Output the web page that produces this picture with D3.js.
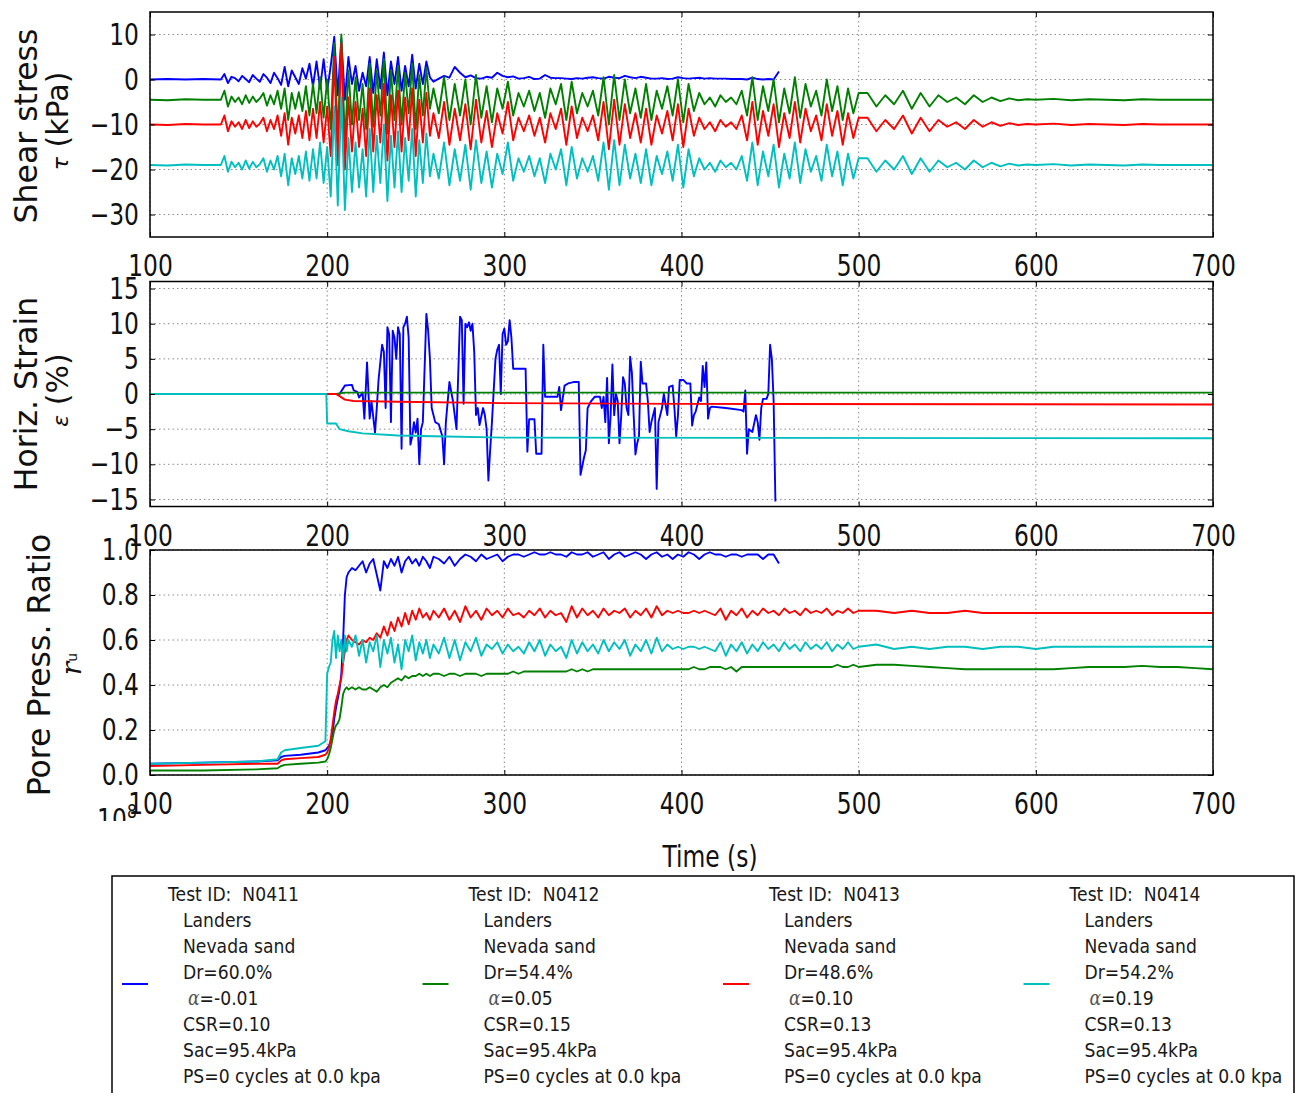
<!DOCTYPE html>
<html>
<head>
<meta charset="utf-8">
<script src="https://cdn.jsdelivr.net/npm/d3@7"></script>
<style>
  body { margin: 0; background: #fff; }
  svg { display: block; font-family: "DejaVu Sans", sans-serif; }
</style>
</head>
<body>
<svg id="fig" width="1306" height="1093"></svg>
<script>
// ---------- sampling times ----------
const shearTime = [].concat([100, 110, 120, 130, 140], d3.range(142, 261, 2), d3.range(263, 501, 3),
  d3.range(505, 601, 5), d3.range(610, 701, 10));
const poreTime = [].concat([100, 130, 160, 172, 174, 176, 185, 195, 199, 200, 201, 202, 203, 204, 205, 206,
  207, 208, 209, 210, 211, 212, 214], d3.range(216, 261, 2), d3.range(263, 501, 3), d3.range(510, 701, 10));

// ---------- shear stress (kPa) ----------
const shearN0411 = [
  0, 0.1, 0, 0.1, 0,
  1.2, -0.8, 0.6, 0.3, -0.4, 0.8, 0.1, -0.6, 1.0, 0.2,
  -0.5, 1.2, 0.4, -0.8, 1.5, 0.3, -1.2, 2.8, -1.5, 2.0,
  0.5, -1.0, 2.5, 0.2, 3.5, -1.5, 4.0, -2.0, 4.5, -2.5,
  3.0, 9.5, -3.5, 9.0, -4.5, 5.0, -1.0, 3.0, -2.5, 1.5,
  -1.5, 5.0, -3.0, 4.5, -2.0, 6.0, -3.5, 4.0, -1.0, 5.0,
  -2.5, 3.0, -1.5, 5.5, -2.0, 3.5, -1.0, 4.0, 0.5, -0.5,
  0.2, 0.8, 0.4, 2.8, 1.5, 0.5, 0.9, 0.3, 0.2, 0.6,
  0.4, 1.5, 0.8, 0.5, 0.7, 0.2, 0.3, 0.6, 0.1, 0.2,
  1.0, 0.4, 0.3, 0.3, 0.2, 0.1, 0.3, 0.2, 0.4, 0.5,
  0.3, 0.2, 0.6, 0.4, 0.3, 0.8, 0.5, 0.3, 0.6, 0.4,
  0.2, 0.2, 0.3, 0.1, 0.2, 0.5, 0.3, 0.2, 0.3, 0.4,
  0.2, 0.3, 0.2, 0.2, 0.2, 0.1, 0.1, 0.1, 0.0, 0.4,
  0.1, 0.0, 0.1, 0.0, 1.8
];
const shearN0412 = [
  -4.5, -4.6, -4.4, -4.5, -4.5,
  -2.5, -6.0, -3.8, -5.0, -4.0, -5.5, -3.5, -5.2, -3.8, -5.0,
  -4.2, -3.0, -5.8, -3.5, -5.5, -2.5, -6.5, -2.0, -9.0, -3.0,
  -6.5, -2.8, -7.0, -1.5, -8.0, -1.0, -7.5, 0.5, -8.5, 0.0,
  -11.0, 8.0, -13.0, 10.0, -14.0, 2.0, -10.0, 0.5, -9.0, -1.0,
  -11.0, 3.5, -10.5, 2.0, -8.0, 4.5, -12.0, 2.0, -9.0, 3.0,
  -10.0, 1.5, -7.5, 3.5, -11.0, 1.0, -8.0, 2.5, -6.5, -2.0,
  -7.5, 0.5, -9.0, -1.0, -8.0, 0.0, -10.0, 1.0, -8.5, -1.5,
  -9.5, -2.0, -6.5, -0.5, -8.0, -3.0, -6.0, -2.5, -7.0, -3.0,
  -8.5, -2.0, -5.5, -1.0, -9.0, -0.5, -7.5, -3.0, -6.0, -2.5,
  -8.0, 0.5, -10.0, 1.0, -9.0, 0.0, -7.5, -2.0, -8.5, -1.0,
  -9.0, -2.5, -6.5, -1.5, -8.0, 0.0, -9.5, -1.0, -7.0, -3.0,
  -5.5, -4.0, -6.0, -3.5, -5.0, -4.0, -5.5, -2.5, -8.0, 0.5,
  -9.0, -1.5, -7.0, 0.0, -9.5, -2.0, -7.5, 0.5, -8.5, -1.0,
  -6.0, -2.5, -8.0, 0.0, -7.0, -1.5, -9.0, -2.0, -7.5, -3.0,
  -3.0, -6.0, -3.5, -5.5, -2.5, -6.5, -3.0, -6.0, -3.5, -5.0,
  -4.0, -5.5, -3.5, -5.0, -4.0, -4.8, -4.2, -4.6, -4.4, -4.5,
  -4.3, -4.6, -4.4, -4.5, -4.6, -4.4, -4.5, -4.5, -4.5, -4.5
];
const shearN0413 = [
  -10.0, -10.1, -9.9, -10.0, -10.0,
  -8.0, -11.5, -9.3, -10.5, -9.5, -11.0, -9.0, -10.8, -9.3, -10.5,
  -9.8, -8.5, -11.5, -9.0, -11.0, -8.0, -12.5, -7.5, -14.5, -8.5,
  -12.0, -8.0, -13.0, -7.0, -13.5, -6.5, -13.0, -5.0, -14.0, -6.0,
  -17.0, 5.0, -19.0, 8.0, -20.0, -4.0, -16.0, -5.0, -15.0, -6.5,
  -17.0, -2.0, -16.0, -3.5, -14.0, -1.0, -18.0, -3.5, -15.0, -2.5,
  -16.0, -4.0, -13.5, -2.0, -17.0, -4.5, -14.0, -3.0, -12.5, -7.5,
  -13.0, -5.0, -14.5, -6.5, -13.5, -5.5, -15.5, -4.5, -14.0, -7.0,
  -15.0, -7.5, -12.0, -5.0, -13.5, -8.5, -11.5, -8.0, -12.5, -8.5,
  -14.0, -7.5, -11.0, -6.5, -14.5, -6.0, -13.0, -8.5, -11.5, -8.0,
  -13.5, -5.0, -15.5, -4.5, -14.5, -5.5, -13.0, -7.5, -14.0, -6.5,
  -14.5, -8.0, -12.0, -7.0, -13.5, -5.5, -15.0, -6.5, -12.5, -8.5,
  -11.0, -9.5, -11.5, -9.0, -10.5, -9.5, -11.0, -8.0, -13.5, -5.0,
  -14.5, -7.0, -12.5, -5.5, -15.0, -7.5, -13.0, -5.0, -14.0, -6.5,
  -11.5, -8.0, -13.5, -5.5, -12.5, -7.0, -14.5, -7.5, -13.0, -8.5,
  -8.5, -11.5, -9.0, -11.0, -8.0, -12.0, -8.5, -11.5, -9.0, -10.5,
  -9.5, -11.0, -9.0, -10.5, -9.5, -10.3, -9.7, -10.1, -9.9, -10.0,
  -9.8, -10.1, -9.9, -10.0, -10.1, -9.9, -10.0, -10.0, -10.0, -10.0
];
const shearN0414 = [
  -19.0, -19.1, -18.9, -19.0, -19.0,
  -17.0, -20.5, -18.3, -19.5, -18.5, -20.0, -18.0, -19.8, -18.3, -19.5,
  -18.8, -17.5, -20.5, -18.0, -20.0, -17.0, -21.5, -16.5, -23.5, -17.5,
  -21.0, -17.0, -22.0, -16.0, -22.5, -15.5, -22.0, -14.0, -23.0, -15.0,
  -26.0, -6.0, -28.0, -4.0, -29.0, -13.0, -25.0, -14.0, -24.0, -15.5,
  -26.0, -11.0, -25.0, -12.5, -23.0, -10.0, -27.0, -12.5, -24.0, -11.5,
  -25.0, -13.0, -22.5, -11.0, -26.0, -13.5, -23.0, -12.0, -21.5, -16.5,
  -22.0, -14.0, -23.5, -15.5, -22.5, -14.5, -24.5, -13.5, -23.0, -16.0,
  -24.0, -16.5, -21.0, -14.0, -22.5, -17.5, -20.5, -17.0, -21.5, -17.5,
  -23.0, -16.5, -20.0, -15.5, -23.5, -15.0, -22.0, -17.5, -20.5, -17.0,
  -22.5, -14.0, -24.5, -13.5, -23.5, -14.5, -22.0, -16.5, -23.0, -15.5,
  -23.5, -17.0, -21.0, -16.0, -22.5, -14.5, -24.0, -15.5, -21.5, -17.5,
  -20.0, -18.5, -20.5, -18.0, -19.5, -18.5, -20.0, -17.0, -22.5, -14.0,
  -23.5, -16.0, -21.5, -14.5, -24.0, -16.5, -22.0, -14.0, -23.0, -15.5,
  -20.5, -17.0, -22.5, -14.5, -21.5, -16.0, -23.5, -16.5, -22.0, -17.5,
  -17.5, -20.5, -18.0, -20.0, -17.0, -21.0, -17.5, -20.5, -18.0, -19.5,
  -18.5, -20.0, -18.0, -19.5, -18.5, -19.3, -18.7, -19.1, -18.9, -19.0,
  -18.8, -19.1, -18.9, -19.0, -19.1, -18.9, -19.0, -19.0, -19.0, -19.0
];

// ---------- horizontal strain (%), [time, value] ----------
const strainN0411 = [
  [100, 0], [207, 0], [209, 0.8], [210, 1.2], [214, 1.3], [215, 0.5], [217, 0.3], [218, -0.5], [220, 0.2],
  [221, -3.5], [222.5, 4.5], [224, -3.5], [225, -1], [227, -5.5], [228, -2], [229, 2], [231, 7], [232, 6],
  [233, -2], [234, 9.5], [235, 8.5], [236, -4], [237, 9], [238, 8], [239, 5], [240, 9.5], [241, 8.5],
  [242, -7.8], [243, 9.5], [244, 10], [245, 11], [246, 8], [247, -7.2], [248, -6], [249, -4], [250, -5.5],
  [251, -3.5], [252, -10], [253, -5], [254, -4], [256, 11.4], [257, 9], [258, 5], [259, -2], [261, -4],
  [263, -4.3], [265, -6], [266, -10], [267, -4], [269, 1.7], [271, -1], [273, -5], [274, 3], [275, 11],
  [276, 10.5], [277, -1.4], [278, 10], [279, 9.5], [280, 10.2], [281, 9], [282, 10], [283, 6], [284, -3],
  [285, -2], [286, -4.4], [288, -2], [289, -3], [290, -5], [291, -12.3], [292, -8], [293, -4], [295, 5],
  [296, 6.3], [297, 7], [298, 0], [299, 8.5], [300, 9.3], [301, 7], [302, 7.5], [303, 10.5], [304, 8],
  [305, 3.6], [312, 3.6], [313, -8.2], [314, -3.6], [317, -3.6], [318, -8.5], [321, -8.5], [322, 7],
  [323, -0.4], [330, -0.4], [331, 1], [332, -2.3], [334, 1.2], [336, 1.5], [339, 1.7], [342, 1.7],
  [343, -11.5], [345, -9], [346, -8], [347, -2], [349, -1], [351, -0.4], [354, -0.4], [355, -2], [356, -0.4],
  [357, -4], [358, 2.3], [359, -7], [360, -3], [361, 4.2], [362, -3], [363, 0], [364, -1], [365, -7],
  [366, -3], [367, 2.4], [368, 1.5], [369, -2], [370, -3], [371, 5.3], [372, 3], [373, -3], [374, -8.6],
  [375, -7], [376, -6], [377, 4.6], [378, 1.5], [380, 1.5], [381, -1], [382, -5.4], [383, -4], [384, -3],
  [385, -2], [386, -13.5], [387, -4], [389, -2], [390, 0], [392, -3], [393, 1], [395, 1.2], [396, -2],
  [397, -6], [398, -3], [399, 2], [401, 2], [403, 1.5], [405, 1.5], [406, -4.5], [407, -3], [408, -2.5],
  [410, -0.5], [411, -1], [412, 4], [413, 1], [414, 4.5], [415, -3.5], [416, -2], [417, -1.8], [425, -2.0],
  [434, -2.3], [435, -2.5], [436, 0.5], [437, -8.5], [438, -5], [440, -5.4], [442, -3], [443, -4],
  [444, -6.5], [445, -2], [446, -0.7], [448, -0.7], [449, 0], [450, 7], [451, 5], [452, -1], [453, -15.3]
];
const strainN0412 = [[100, 0], [205, 0], [210, 0.2], [700, 0.2]];
const strainN0413 = [[100, 0], [205, 0], [207, -0.3], [210, -0.8], [215, -1.0], [240, -1.1], [300, -1.3],
  [400, -1.4], [700, -1.5]];
const strainN0414 = [[100, 0], [199.5, 0], [200, -4.2], [205, -4.2], [207, -5.0], [212, -5.3], [220, -5.6],
  [240, -5.9], [260, -6.0], [300, -6.2], [700, -6.3]];

// ---------- pore pressure ratio ----------
const poreN0411 = [
  0.05, 0.055, 0.06, 0.065, 0.08, 0.085, 0.09, 0.1, 0.11, 0.12,
  0.13, 0.15, 0.18, 0.25, 0.3, 0.34, 0.38, 0.45, 0.6, 0.8,
  0.88, 0.9, 0.92,
  0.91, 0.93, 0.95, 0.90, 0.94, 0.96, 0.89, 0.82, 0.95, 0.92,
  0.96, 0.93, 0.97, 0.90, 0.95, 0.97, 0.94, 0.96, 0.93, 0.97,
  0.95, 0.92, 0.97,
  0.96, 0.94, 0.97, 0.93, 0.96, 0.98, 0.97, 0.95, 0.98, 0.96,
  0.97, 0.98, 0.95, 0.97, 0.98, 0.98, 0.97, 0.98, 0.99, 0.98,
  0.98, 0.99, 0.98, 0.98, 0.97, 0.99, 0.98, 0.98, 0.99, 0.97,
  0.98, 0.99, 0.96, 0.98, 0.99, 0.97, 0.98, 0.99, 0.98, 0.96,
  0.98, 0.99, 0.97, 0.98, 0.96, 0.98, 0.97, 0.99, 0.98, 0.96,
  0.98, 0.99, 0.98, 0.98, 0.97, 0.98, 0.98, 0.97, 0.98, 0.98,
  0.98, 0.96, 0.98, 0.98, 0.94
];
const poreN0412 = [
  0.02, 0.02, 0.025, 0.03, 0.04, 0.045, 0.05, 0.055, 0.06, 0.07,
  0.09, 0.12, 0.16, 0.2, 0.22, 0.23, 0.25, 0.3, 0.36, 0.38,
  0.39, 0.38, 0.39,
  0.38, 0.39, 0.38, 0.38, 0.39, 0.38, 0.37, 0.39, 0.40, 0.39,
  0.41, 0.42, 0.43, 0.42, 0.44, 0.43, 0.44, 0.44, 0.45, 0.44,
  0.45, 0.44, 0.45,
  0.45, 0.44, 0.45, 0.45, 0.44, 0.45, 0.45, 0.45, 0.44, 0.45,
  0.45, 0.45, 0.45, 0.45, 0.46, 0.45, 0.46, 0.46, 0.46, 0.46,
  0.46, 0.46, 0.46, 0.46, 0.46, 0.47, 0.46, 0.47, 0.46, 0.47,
  0.47, 0.47, 0.47, 0.47, 0.47, 0.47, 0.47, 0.47, 0.47, 0.47,
  0.47, 0.47, 0.47, 0.47, 0.47, 0.47, 0.47, 0.47, 0.48, 0.47,
  0.47, 0.48, 0.48, 0.48, 0.47, 0.48, 0.46, 0.48, 0.48, 0.48,
  0.48, 0.48, 0.48, 0.48, 0.48, 0.48, 0.48, 0.48, 0.48, 0.48,
  0.48, 0.48, 0.48, 0.48, 0.48, 0.49, 0.48, 0.48, 0.49, 0.48,
  0.49, 0.49, 0.485, 0.48, 0.475, 0.47, 0.47, 0.47, 0.47, 0.47,
  0.47, 0.475, 0.48, 0.48, 0.48, 0.485, 0.48, 0.48, 0.475, 0.47
];
const poreN0413 = [
  0.04, 0.045, 0.05, 0.05, 0.065, 0.07, 0.075, 0.08, 0.09, 0.1,
  0.12, 0.16, 0.22, 0.28, 0.33, 0.36, 0.4, 0.43, 0.5, 0.55,
  0.6, 0.62, 0.6,
  0.59, 0.58, 0.6, 0.59, 0.61, 0.6, 0.63, 0.61, 0.66, 0.62,
  0.68, 0.64, 0.70, 0.66, 0.72, 0.67, 0.73, 0.69, 0.74, 0.70,
  0.72, 0.69, 0.73,
  0.70, 0.74, 0.69, 0.73, 0.68, 0.75, 0.70, 0.73, 0.69, 0.74,
  0.71, 0.73, 0.70, 0.74, 0.71, 0.72, 0.70, 0.73, 0.71, 0.74,
  0.70, 0.73, 0.71, 0.72, 0.68, 0.75, 0.70, 0.74, 0.71, 0.73,
  0.70, 0.74, 0.71, 0.73, 0.72, 0.74, 0.70, 0.73, 0.71, 0.74,
  0.70, 0.75, 0.71, 0.73, 0.72, 0.73, 0.72, 0.72, 0.73, 0.72,
  0.73, 0.72, 0.71, 0.74, 0.69, 0.73, 0.71, 0.74, 0.70, 0.73,
  0.71, 0.74, 0.72, 0.73, 0.71, 0.74, 0.72, 0.73, 0.71, 0.74,
  0.72, 0.73, 0.72, 0.74, 0.71, 0.73, 0.72, 0.74, 0.72, 0.73,
  0.73, 0.72, 0.73, 0.72, 0.72, 0.73, 0.72, 0.72, 0.72, 0.72,
  0.72, 0.72, 0.72, 0.72, 0.72, 0.72, 0.72, 0.72, 0.72, 0.72
];
const poreN0414 = [
  0.05, 0.055, 0.06, 0.07, 0.1, 0.11, 0.12, 0.13, 0.15, 0.45,
  0.48, 0.5, 0.6, 0.64, 0.52, 0.62, 0.55, 0.6, 0.5, 0.62,
  0.55, 0.6, 0.57,
  0.62, 0.53, 0.60, 0.50, 0.59, 0.55, 0.62, 0.48, 0.60, 0.54,
  0.61, 0.50, 0.58, 0.47, 0.60, 0.55, 0.62, 0.51, 0.59, 0.54,
  0.60, 0.52, 0.58,
  0.54, 0.61, 0.52, 0.60, 0.51, 0.59, 0.55, 0.61, 0.53, 0.58,
  0.56, 0.59, 0.54, 0.58, 0.55, 0.57, 0.54, 0.59, 0.55, 0.60,
  0.53, 0.58, 0.55, 0.57, 0.52, 0.60, 0.54, 0.59, 0.55, 0.58,
  0.54, 0.60, 0.55, 0.59, 0.56, 0.60, 0.53, 0.58, 0.55, 0.60,
  0.54, 0.61, 0.55, 0.58, 0.56, 0.57, 0.56, 0.57, 0.57, 0.56,
  0.57, 0.56, 0.55, 0.59, 0.53, 0.58, 0.55, 0.59, 0.54, 0.58,
  0.55, 0.59, 0.56, 0.58, 0.55, 0.59, 0.56, 0.58, 0.55, 0.59,
  0.56, 0.58, 0.56, 0.59, 0.55, 0.58, 0.56, 0.59, 0.56, 0.57,
  0.58, 0.56, 0.57, 0.56, 0.57, 0.57, 0.56, 0.57, 0.57, 0.56,
  0.57, 0.57, 0.57, 0.57, 0.57, 0.57, 0.57, 0.57, 0.57, 0.57
];

// ---------- tick labels / legend text ----------
const timeTicks = [100, 200, 300, 400, 500, 600, 700];
const shearTicks = [-30, -20, -10, 0, 10];
const strainTicks = [-15, -10, -5, 0, 5, 10, 15];
const poreTicks = [0, 0.2, 0.4, 0.6, 0.8, 1.0];
const testIds = ["N0411", "N0412", "N0413", "N0414"];
const drValues = ["60.0%", "54.4%", "48.6%", "54.2%"];
const alphaValues = ["-0.01", "0.05", "0.10", "0.19"];
const csrValues = ["0.10", "0.15", "0.13", "0.13"];
const seriesColors = ["#0000ff", "#008000", "#ff0000", "#00bfbf"];

// ---------- drawing ----------
const svg = d3.select("#fig");
const X0 = 150, X1 = 1213, PH = 225;
const x = d3.scaleLinear().domain([100, 700]).range([X0, X1]);
const TICK_SX = 0.78;   // narrow tick lettering

const zip = (t, v) => v.map((d, i) => [t[i], d]);

const panels = [
  { top: 12, domain: [-35, 15], ticks: shearTicks, fmt: d3.format("d"),
    series: [shearN0411, shearN0412, shearN0413, shearN0414].map(v => zip(shearTime, v)) },
  { top: 281.5, domain: [-16, 16], ticks: strainTicks, fmt: d3.format("d"),
    series: [strainN0411, strainN0412, strainN0413, strainN0414] },
  { top: 550, domain: [0, 1], ticks: poreTicks, fmt: d3.format(".1f"),
    series: [poreN0411, poreN0412, poreN0413, poreN0414].map(v => zip(poreTime, v)) }
];

panels.forEach((p, pi) => {
  const y = d3.scaleLinear().domain(p.domain).range([p.top + PH, p.top]);
  const g = svg.append("g");

  // clip region
  const cid = "clip" + pi;
  svg.append("clipPath").attr("id", cid)
    .append("rect").attr("x", X0).attr("y", p.top).attr("width", X1 - X0).attr("height", PH);

  // dotted grid
  const grid = g.append("g").attr("stroke", "#8c8c8c").attr("stroke-width", 1)
    .attr("stroke-dasharray", "1.5,3");
  grid.selectAll("line.v").data(timeTicks).join("line")
    .attr("x1", d => x(d)).attr("x2", d => x(d)).attr("y1", p.top).attr("y2", p.top + PH);
  grid.selectAll("line.h").data(p.ticks).join("line")
    .attr("x1", X0).attr("x2", X1).attr("y1", d => y(d)).attr("y2", d => y(d));

  // data lines
  const line = d3.line().x(d => x(d[0])).y(d => y(d[1]));
  const lines = g.append("g").attr("clip-path", `url(#${cid})`);
  p.series.forEach((s, si) => {
    lines.append("path").attr("d", line(s)).attr("fill", "none")
      .attr("stroke", seriesColors[si]).attr("stroke-width", 1.9)
      .attr("stroke-linejoin", "round");
  });

  // axes with inward ticks
  const bottom = g.append("g").attr("transform", `translate(0,${p.top + PH})`)
    .call(d3.axisBottom(x).tickValues(timeTicks).tickSize(-5).tickSizeOuter(0).tickPadding(18).tickFormat(d3.format("d")));
  g.append("g").attr("transform", `translate(0,${p.top})`)
    .call(d3.axisTop(x).tickValues(timeTicks).tickSize(-5).tickSizeOuter(0).tickFormat(""));
  const left = g.append("g").attr("transform", `translate(${X0},0)`)
    .call(d3.axisLeft(y).tickValues(p.ticks).tickSize(-5).tickSizeOuter(0).tickFormat(p.fmt));
  g.append("g").attr("transform", `translate(${X1},0)`)
    .call(d3.axisRight(y).tickValues(p.ticks).tickSize(-5).tickSizeOuter(0).tickFormat(""));

  g.selectAll(".domain").remove();
  g.selectAll(".tick line").attr("stroke", "#000").attr("stroke-width", 1);
  [bottom, left].forEach(a => a.selectAll("text")
    .attr("font-family", "DejaVu Sans").attr("font-size", 30).attr("fill", "#111"));
  bottom.selectAll("text").attr("transform", `scale(${TICK_SX},1)`);
  left.selectAll("text").attr("x", null).attr("transform", `translate(-11,0) scale(${TICK_SX},1)`);

  // frame
  g.append("rect").attr("x", X0).attr("y", p.top).attr("width", X1 - X0).attr("height", PH)
    .attr("fill", "none").attr("stroke", "#000").attr("stroke-width", 1.5);
});

// ---------- axis titles ----------
function vLabel(xp, yp, size) {
  return svg.append("text").attr("transform", `translate(${xp},${yp}) rotate(-90)`)
    .attr("text-anchor", "middle").attr("font-size", size).attr("fill", "#111");
}
vLabel(37, 126, 31.5).text("Shear stress");
const tauLab = vLabel(68, 121, 30);
tauLab.append("tspan").attr("font-style", "italic").attr("font-size", 22).text("τ");
tauLab.append("tspan").text(" (kPa)");

vLabel(37, 394, 31.5).text("Horiz. Strain");
const epsLab = vLabel(68, 390, 30);
epsLab.append("tspan").attr("font-style", "italic").attr("font-size", 22).text("ε");
epsLab.append("tspan").text(" (%)");

vLabel(50, 665, 31.5).text("Pore Press. Ratio");
const ruLab = vLabel(81, 664, 28);
ruLab.append("tspan").attr("font-style", "italic").attr("font-family", "DejaVu Serif").text("r");
ruLab.append("tspan").attr("font-size", 14).attr("dy", -4).text("u");

// exponent label partly hidden behind the lower axes area
svg.append("clipPath").attr("id", "expClip")
  .append("rect").attr("x", 80).attr("y", 790).attr("width", 80).attr("height", 31);
const expG = svg.append("g").attr("clip-path", "url(#expClip)");
expG.append("text").attr("transform", `translate(97,830) scale(${TICK_SX},1)`)
  .attr("font-size", 30).attr("fill", "#111").text("10");
expG.append("text").attr("transform", `translate(127,818) scale(${TICK_SX},1)`)
  .attr("font-size", 20).attr("fill", "#111").text("8");

svg.append("text").attr("transform", `translate(710,867) scale(${TICK_SX},1)`)
  .attr("text-anchor", "middle").attr("font-size", 30).attr("fill", "#111").text("Time (s)");

// ---------- legend ----------
const LEG_SX = 0.86;
const legend = svg.append("g");
legend.append("rect").attr("x", 112).attr("y", 876).attr("width", 1182).attr("height", 240)
  .attr("fill", "#fff").attr("stroke", "#000").attr("stroke-width", 1.5);

function legText(xp, yp) {
  return legend.append("text").attr("transform", `translate(${xp},${yp}) scale(${LEG_SX},1)`)
    .attr("font-size", 20).attr("fill", "#1a1a1a").style("white-space", "pre");
}
testIds.forEach((id, i) => {
  const ox = 300.5 * i;
  legend.append("line").attr("x1", 122 + ox).attr("x2", 148 + ox).attr("y1", 984).attr("y2", 984)
    .attr("stroke", seriesColors[i]).attr("stroke-width", 2);
  legText(168 + ox, 901).text("Test ID:  " + id);
  legText(183 + ox, 927).text("Landers");
  legText(183 + ox, 953).text("Nevada sand");
  legText(183 + ox, 979).text("Dr=" + drValues[i]);
  const a = legText(188 + ox, 1005);
  a.append("tspan").attr("font-family", "DejaVu Serif").attr("font-style", "italic").attr("fill", "#555").text("α");
  a.append("tspan").text("=" + alphaValues[i]);
  legText(183 + ox, 1031).text("CSR=" + csrValues[i]);
  legText(183 + ox, 1057).text("Sac=95.4kPa");
  legText(183 + ox, 1083).text("PS=0 cycles at 0.0 kpa");
});
</script>
</body>
</html>
